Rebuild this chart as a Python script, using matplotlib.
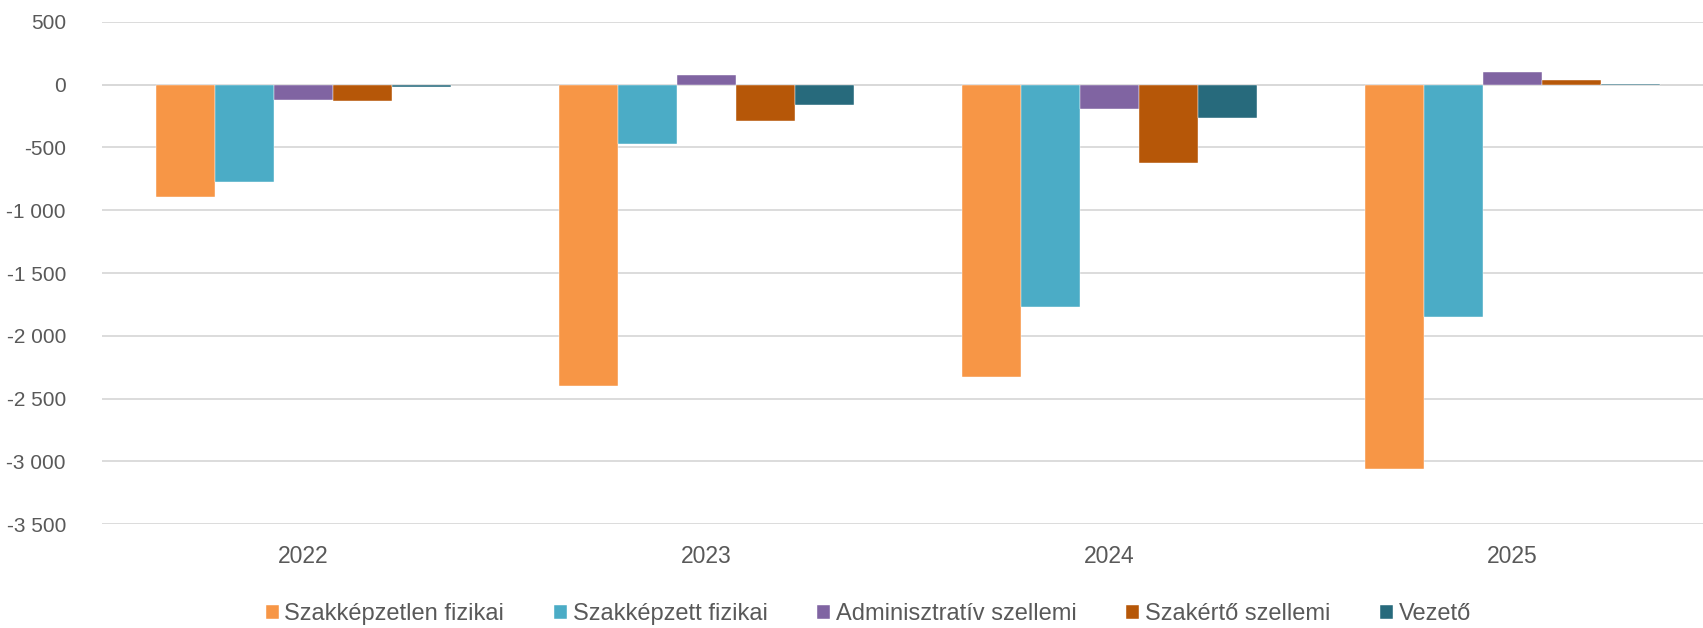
import matplotlib
matplotlib.use("Agg")
import matplotlib.pyplot as plt
import numpy as np
from matplotlib.ticker import FuncFormatter

plt.rcParams['font.family'] = ['Liberation Sans', 'DejaVu Sans']

years = ["2022", "2023", "2024", "2025"]
series_names = ["Szakképzetlen fizikai", "Szakképzett fizikai", "Adminisztratív szellemi",
                "Szakértő szellemi", "Vezető"]
szakkepzetlen = [-898, -2402, -2325, -3058]
szakkepzett = [-775, -470, -1767, -1852]
adminisztrativ = [-125, 76, -197, 98]
szakerto = [-128, -292, -627, 36]
vezeto = [-19, -158, -263, 3]
colors = ["#F79646", "#4BACC6", "#8064A2", "#B65708", "#276A7C"]
yticks = list(range(-3500, 501, 500))

all_series = [szakkepzetlen, szakkepzett, adminisztrativ, szakerto, vezeto]

W, H = 1703, 628
fig = plt.figure(figsize=(W / 100, H / 100), dpi=100)
left_px, right_px = 102, 1714
top_px, bot_px = 21.9, 524.3
ax = fig.add_axes([left_px / W, 1 - bot_px / H, (right_px - left_px) / W, (bot_px - top_px) / H])

x = np.arange(len(years))
bw = 0.146
for i, (vals, name, c) in enumerate(zip(all_series, series_names, colors)):
    ax.bar(x + (i - 2) * bw, vals, width=bw, color=c, label=name, zorder=3,
           edgecolor="white", linewidth=0.3)

ax.set_xlim(-0.5, len(years) - 0.5)
ax.set_ylim(-3500, 500)
ax.set_yticks(yticks)
ax.yaxis.set_major_formatter(FuncFormatter(lambda v, p: f"{int(v):,}".replace(",", " ")))
ax.set_xticks(x)
ax.set_xticklabels(years)
ax.grid(axis="y", color="#D9D9D9", linewidth=1.3, zorder=0)
ax.axhline(0, color="#D9D9D9", linewidth=1.3, zorder=1)
for s in ax.spines.values():
    s.set_visible(False)
ax.tick_params(axis="y", length=0, labelsize=15, labelcolor="#595959", pad=26)
ax.tick_params(axis="x", length=0, labelsize=16.5, labelcolor="#595959", pad=15)

leg = fig.legend(loc="center", bbox_to_anchor=(0.510, 1 - 614 / H), ncol=5, frameon=False,
                 fontsize=17, handlelength=0.55, handleheight=0.55, handletextpad=0.25,
                 columnspacing=2.1, labelcolor="#595959")

fig.savefig("out.png", dpi=100)
